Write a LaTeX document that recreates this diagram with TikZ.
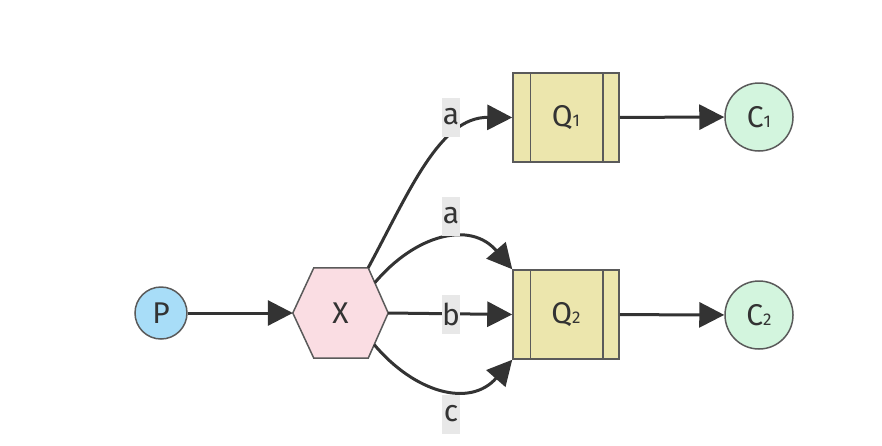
\documentclass[tikz,border=0pt]{standalone}
\usepackage{fontspec}
\setmainfont{Fira Sans}
\usetikzlibrary{arrows.meta,calc}
\definecolor{edgec}{HTML}{333333}
\definecolor{strokec}{HTML}{5A5A5A}
\definecolor{pfill}{HTML}{A8DDF8}
\definecolor{xfill}{HTML}{FADDE3}
\definecolor{qfill}{HTML}{ECE6AD}
\definecolor{cfill}{HTML}{D3F5DE}
\definecolor{lblbg}{HTML}{E8E8E8}
\newcommand{\sdig}[1]{{\fontsize{17pt}{17pt}\selectfont #1}}
\tikzset{
  every node/.style={font=\fontsize{30pt}{32pt}\selectfont, text=edgec},
  circnode/.style={circle, draw=strokec, line width=1.5pt, inner sep=0pt},
  queue/.style={rectangle, draw=strokec, line width=1.5pt, fill=qfill, minimum width=106pt, minimum height=89pt, inner sep=0pt},
  conn/.style={draw=edgec, line width=3pt, -{Triangle[length=25pt,width=25pt]}},
  lbl/.style={fill=lblbg, inner sep=0pt, minimum width=18pt, minimum height=39pt}
}
\begin{document}
\begin{tikzpicture}[x=1pt,y=-1pt]
\useasboundingbox (0,0) rectangle (882,445);
% nodes
\node[circnode, fill=pfill, minimum size=52pt] (P) at (161,313) {P};
\node[rectangle, minimum width=95pt, minimum height=90pt, inner sep=0pt] (X) at (340.5,313) {};
\coordinate (xtl) at ($(X.north west)+(21,0)$);
\coordinate (xtr) at ($(X.north east)+(-20,0)$);
\coordinate (xbl) at ($(X.south west)+(21,0)$);
\coordinate (xbr) at ($(X.south east)+(-20,0)$);
\draw[fill=xfill, draw=strokec, line width=1.5pt] (X.west) -- (xtl) -- (xtr) -- (X.east) -- (xbr) -- (xbl) -- cycle;
\node at (X.center) {X};
\node[queue] (Q1) at (566,117.5) {Q\sdig{1}};
\node[queue] (Q2) at (566,314.5) {Q\sdig{2}};
\foreach \q in {Q1,Q2}{
  \draw[draw=strokec, line width=1.5pt] ($(\q.north west)+(18,0)$) -- ($(\q.south west)+(18,0)$);
  \draw[draw=strokec, line width=1.5pt] ($(\q.north east)+(-17,0)$) -- ($(\q.south east)+(-17,0)$);
}
\node[circnode, fill=cfill, minimum size=68pt] (C1) at (759,117) {C\sdig{1}};
\node[circnode, fill=cfill, minimum size=68pt] (C2) at (759,315) {C\sdig{2}};
% connection points on the hexagon
\coordinate (xa) at ($(xtr)!0.33!(X.east)$);
\coordinate (xc) at ($(X.east)!0.7!(xbr)$);
% edges
\draw[conn] (P) -- (X.west);
\draw[conn] (xtr) .. controls (410,190) and (440,117) .. (Q1.west);
\draw[conn] (xa) .. controls (415,235) and (470,220) .. (Q2.north west);
\draw[conn] (X.east) -- (Q2.west);
\draw[conn] (xc) .. controls (415,393) and (470,408) .. (Q2.south west);
\draw[conn] (Q1) -- (C1);
\draw[conn] (Q2) -- (C2);
% labels
\node[lbl] (la1) at (451,117) {a};
\node[lbl] (la2) at (451,216) {a};
\node[lbl] (lb) at (451,314.5) {b};
\node[lbl] (lc) at (451,414) {c};
\end{tikzpicture}
\end{document}
